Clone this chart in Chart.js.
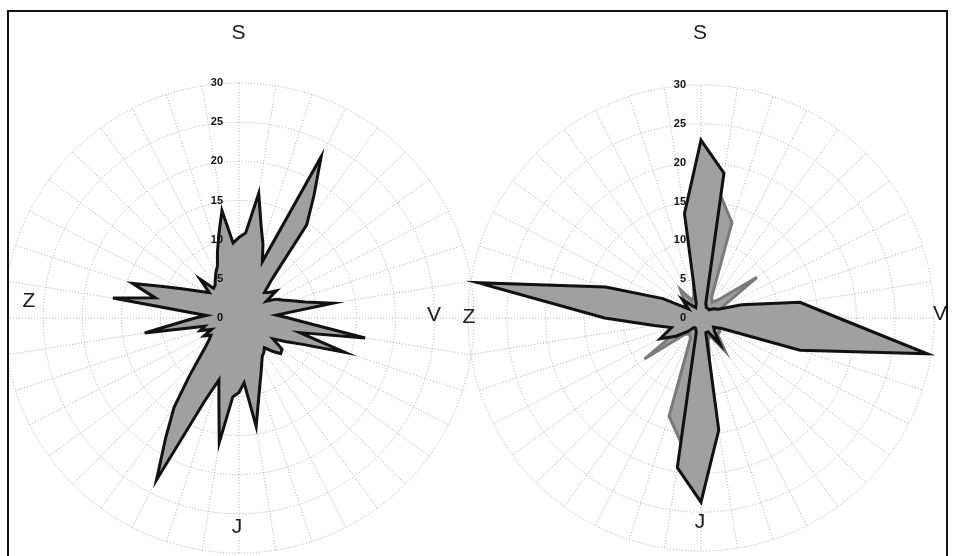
<!DOCTYPE html>
<html>
<head>
<meta charset="utf-8">
<script src="https://cdn.jsdelivr.net/npm/chart.js@4.4.1/dist/chart.umd.min.js"></script>
<style>
  html, body { margin: 0; padding: 0; background: #fff; }
  body { width: 956px; height: 556px; position: relative; overflow: hidden; }
  #frame {
    position: absolute; left: 7px; top: 10px; width: 941px; height: 560px;
    border: 2px solid #111; box-sizing: border-box; overflow: hidden;
  }
  canvas { position: absolute; }
  #roseA { left: -9px; top: -12px; }
  #roseB { left: 451px; top: -12px; }
</style>
</head>
<body>
<div id="frame">
  <canvas id="roseA" width="478" height="556"></canvas>
  <canvas id="roseB" width="496" height="556"></canvas>
</div>
<script>
// Wind directions, clockwise from north (S = sever, V = vzhod, J = jug, Z = zahod).
// Left rose: 80 sectors of 4.5 deg; right rose: 40 sectors of 9 deg.
const directionsFine = Array.from({ length: 80 }, () => '');
const directionsCoarse = Array.from({ length: 40 }, () => '');
const compass = ['S', 'V', 'J', 'Z'];
const tickValues = [0, 5, 10, 15, 20, 25, 30];

// Left rose: frequency (%) per 4.5 deg sector
const roseLeft = [
  10.3, 10.9, 16.1, 12.1, 9.9, 7.8, 23.1, 18.3, 14.7, 6.4,
  4.6, 5.0, 5.9, 4.1, 5.3, 6.0, 7.1, 8.7, 12.1, 4.8,
  6.3, 9.0, 16.3, 8.0, 14.2, 8.8, 6.6, 5.1, 6.8, 7.0,
  6.0, 5.0, 5.4, 5.7, 6.4, 7.4, 8.7, 10.7, 14.0, 8.3,
  9.5, 10.1, 16.1, 11.0, 8.3, 11.5, 23.2, 17.9, 14.1, 9.8,
  7.1, 5.6, 4.7, 4.2, 5.0, 3.8, 5.2, 4.5, 12.2, 7.7,
  5.6, 4.2, 16.3, 11.0, 14.3, 10.5, 8.2, 6.7, 5.7, 5.0,
  7.0, 5.0, 5.2, 5.8, 6.5, 7.2, 8.9, 11.0, 13.9, 9.6
];

// Right rose: two series per 9 deg sector
const roseRightDark = [
  22.9, 18.9, 2.0, 1.5, 1.5, 1.5, 2.0, 2.5, 5.5, 12.9,
  17.7, 29.5, 13.4, 3.0, 2.0, 2.5, 4.2, 2.0, 2.0, 14.6,
  23.7, 19.5, 2.0, 1.5, 1.5, 2.5, 4.0, 5.9, 4.0, 6.1,
  12.4, 29.1, 12.9, 5.5, 2.0, 3.4, 2.0, 1.5, 2.0, 13.6
];
const roseRightGrey = [
  15.0, 16.0, 12.9, 3.0, 2.5, 3.5, 8.9, 3.0, 2.5, 3.0,
  5.0, 6.0, 3.0, 2.5, 3.0, 3.0, 5.3, 2.5, 3.0, 8.0,
  12.0, 16.3, 13.3, 3.0, 2.5, 3.0, 9.0, 3.0, 2.5, 3.0,
  5.0, 7.0, 4.0, 3.0, 2.5, 3.0, 4.5, 2.5, 3.0, 6.0
];

const FILL = '#a0a0a0';
const GRID = '#b0b0b0';
const FONT = '"Liberation Sans", Arial, Helvetica, sans-serif';

// Draws the radial tick numbers and the compass letters around each rose
const roseText = {
  id: 'roseText',
  afterDatasetsDraw(chart, args, opts) {
    const s = chart.scales.r;
    const ctx = chart.ctx;
    ctx.save();
    ctx.fillStyle = '#111';
    ctx.textBaseline = 'middle';
    ctx.textAlign = 'right';
    ctx.font = 'bold 11px ' + FONT;
    tickValues.forEach(v => {
      const d = s.getDistanceFromCenterForValue(v);
      ctx.fillText(String(v), s.xCenter + opts.tickDx, s.yCenter - d);
    });
    ctx.textAlign = 'center';
    ctx.font = '21px ' + FONT;
    ctx.fillStyle = '#1a1a1a';
    compass.forEach((c, k) => {
      const p = opts.letters[k];
      ctx.fillText(c, s.xCenter + p[0], s.yCenter + p[1]);
    });
    ctx.restore();
  }
};

// Spokes every 9 degrees regardless of how many sectors the data uses
function radialScale(spokeEvery) {
  return {
    min: 0, max: 30,
    ticks: { stepSize: 5, display: false },
    grid: { circular: true, color: GRID, lineWidth: 1 },
    border: { dash: [1, 2] },
    angleLines: {
      color: GRID,
      lineWidth: c => (c.index % spokeEvery === 0 ? 1 : 0),
      borderDash: [1, 2]
    },
    pointLabels: { display: false }
  };
}

function series(values, border) {
  return {
    data: values,
    borderColor: border,
    backgroundColor: FILL,
    borderWidth: 3,
    borderJoinStyle: 'miter',
    pointRadius: 0,
    pointHoverRadius: 0,
    tension: 0,
    fill: 'origin'
  };
}

function makeRose(id, labels, spokeEvery, datasets, padding, textOpts) {
  return new Chart(document.getElementById(id), {
    type: 'radar',
    data: { labels, datasets },
    options: {
      responsive: false,
      animation: false,
      devicePixelRatio: 1,
      layout: { padding },
      scales: { r: radialScale(spokeEvery) },
      plugins: { legend: { display: false }, tooltip: { enabled: false }, roseText: textOpts }
    },
    plugins: [roseText]
  });
}

makeRose('roseA', directionsFine, 2, [series(roseLeft, '#111')],
  { left: 4.5, right: 3.5, top: 83.5, bottom: 2.5 },
  { tickDx: -16, letters: [[-0.5, -284.5], [195, -2.5], [-2, 209.5], [-210, -16.5]] });

makeRose('roseB', directionsCoarse, 1, [series(roseRightDark, '#111'), series(roseRightGrey, '#7a7a7a')],
  { left: 8, right: 22, top: 85, bottom: 5 },
  { tickDx: -15, letters: [[-1, -285], [239, -4], [-1, 204], [-232, -0.5]] });
</script>
</body>
</html>
